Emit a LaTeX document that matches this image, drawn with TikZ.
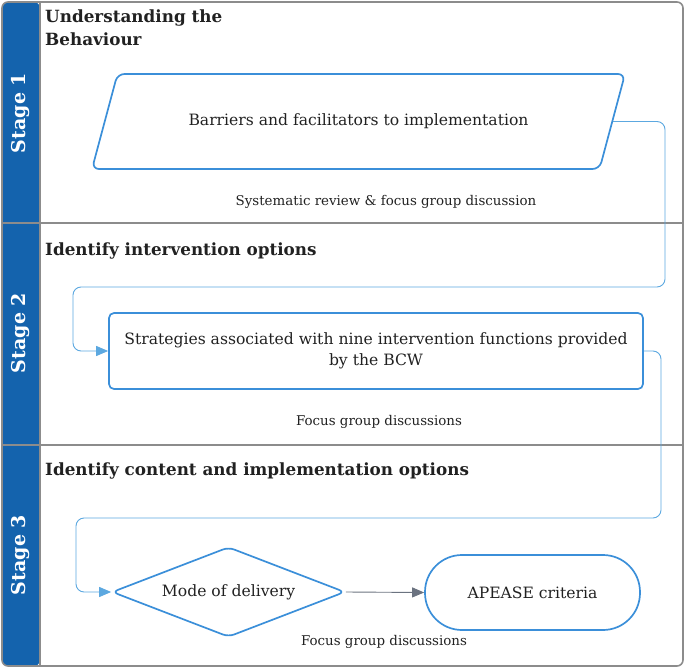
\documentclass[tikz,border=0pt]{standalone}
\usepackage{fontspec}
\setmainfont{DejaVu Serif}
\usepackage{tikz}
\usetikzlibrary{shapes,shapes.geometric,arrows.meta}
\definecolor{bandblue}{rgb}{0.08, 0.39, 0.68}
\definecolor{boxblue}{rgb}{0.23, 0.56, 0.85}
\definecolor{linkblue}{rgb}{0.36, 0.66, 0.88}
\definecolor{framegray}{rgb}{0.55, 0.55, 0.55}
\definecolor{arrowgray}{rgb}{0.42, 0.45, 0.5}
\definecolor{txt}{rgb}{0.13, 0.13, 0.13}
\tikzstyle{stagelabel}=[rotate=90,text=white,font=\bfseries\fontsize{19}{21}\selectfont]
\tikzstyle{title}=[anchor=north west,inner sep=0pt,text=txt,align=left,font=\bfseries\fontsize{16.8}{23}\selectfont]
\tikzstyle{box}=[draw=boxblue,line width=1.7pt,text=txt,align=center,font=\fontsize{15.6}{21}\selectfont]
\tikzstyle{note}=[text=txt,font=\fontsize{13.4}{15}\selectfont]
\tikzstyle{link}=[draw=linkblue,line width=0.9pt,rounded corners=8pt,-{Triangle[length=12pt,width=10pt]}]

\begin{document}
\begin{tikzpicture}[x=1pt,y=-1pt]
\useasboundingbox (0,0) rectangle (685,669);
% frame and stage band
\fill[bandblue,rounded corners=6pt] (2,2) -- (40,2) -- (40,666) -- (2,666) -- cycle;
\draw[framegray,line width=1.6pt] (40,2) -- (40,666);
\draw[framegray,line width=1.6pt] (2,223) -- (683,223);
\draw[framegray,line width=1.6pt] (2,445) -- (683,445);
\draw[framegray,line width=1.6pt,rounded corners=6pt] (2,2) rectangle (683,666);
\node[stagelabel] (s1) at (21,113) {Stage 1};
\node[stagelabel] (s2) at (21,333) {Stage 2};
\node[stagelabel] (s3) at (21,555) {Stage 3};
\node[title] (t1) at (45,10) {Understanding the\\Behaviour};
\node[title] (t2) at (45,243) {Identify intervention options};
\node[title] (t3) at (45,463) {Identify content and implementation options};
% nodes
\node[box,trapezium,trapezium left angle=75,trapezium right angle=105,trapezium stretches body=true,
  text height=11pt,text depth=4pt,inner xsep=0pt,inner ysep=40pt,minimum width=533pt,rounded corners=7pt] (barr) at (358.5,121.5)
  {Barriers and facilitators to implementation};
\node[note] (n1) at (386,202) {Systematic review \& focus group discussion};
\node[box,rectangle,rounded corners=5pt,minimum width=534pt,minimum height=76pt] (strat) at (376,351)
  {Strategies associated with nine intervention functions provided\\by the BCW};
\node[note] (n2) at (379,422) {Focus group discussions};
\node[box,diamond,aspect=2.6,minimum width=233pt,minimum height=90pt,inner sep=0pt,rounded corners=6pt] (mode) at (228.5,592)
  {Mode of delivery};
\node[box,rectangle,rounded corners=37pt,minimum width=215pt,minimum height=75pt] (apease) at (532.5,592.5)
  {APEASE criteria};
\node[note] (n3) at (384,642) {Focus group discussions};
% connectors
\coordinate (r1) at (665,287);
\coordinate (l1) at (73,287);
\coordinate (r2) at (661,518);
\coordinate (l2) at (76,518);
\draw[link] (barr.east) -- (r1 |- barr.east) -- (r1) -- (l1) -- (l1 |- strat.west) -- (strat.west);
\draw[link] (strat.east) -- (r2 |- strat.east) -- (r2) -- (l2) -- (l2 |- mode.west) -- (mode.west);
\draw[arrowgray,line width=0.9pt,-{Triangle[length=12pt,width=10pt]}] (mode.east) -- (apease.west);
\end{tikzpicture}
\end{document}
